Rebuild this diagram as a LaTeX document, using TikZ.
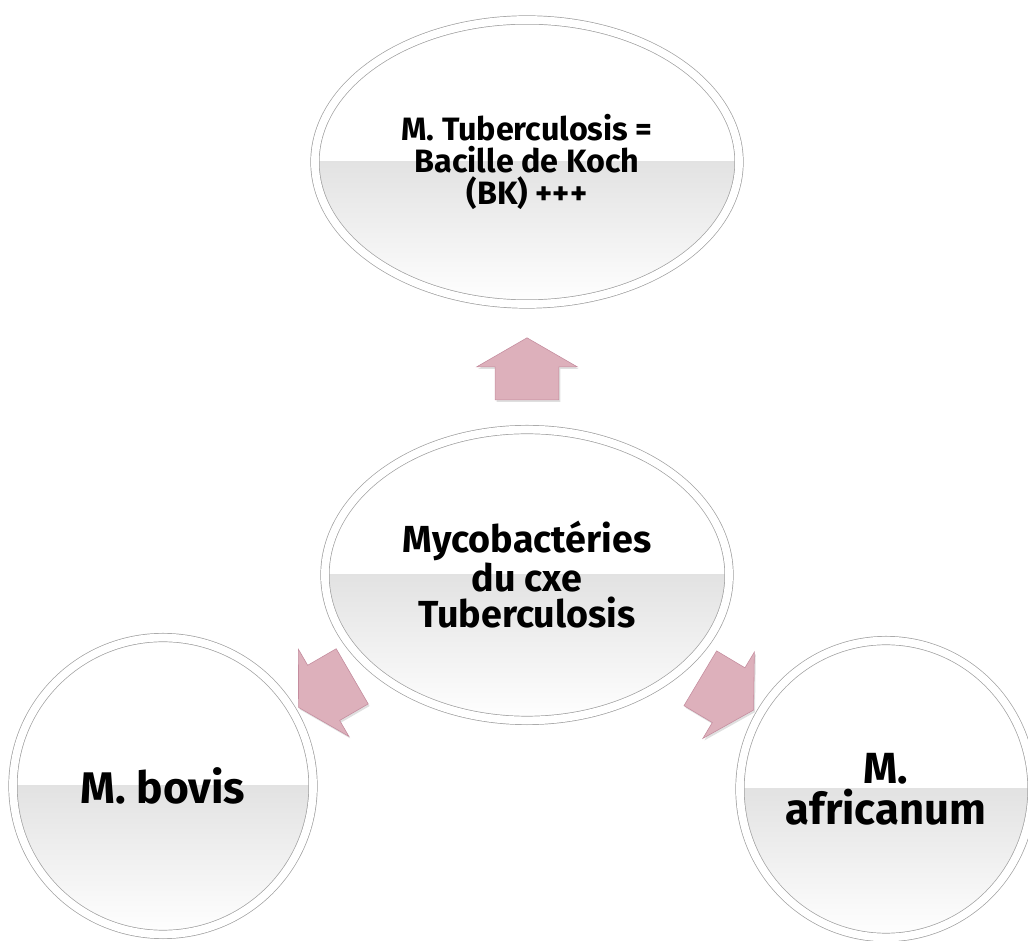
\documentclass[tikz,border=0pt]{standalone}
\usepackage{fontspec}
\setmainfont{Fira Sans}
\usetikzlibrary{shapes.geometric,shapes.arrows,shadows,positioning}

\definecolor{arrowfill}{RGB}{221,176,187}
\definecolor{arrowedge}{RGB}{196,140,158}
\definecolor{rimgray}{RGB}{160,160,160}

\tikzset{
  bubble/.style={ellipse, draw=rimgray, line width=0.5pt, double=white,
    double distance=5.5pt, fill=white, inner sep=0pt, align=center,
    drop shadow={opacity=0.2, shadow xshift=1.5pt, shadow yshift=-2.5pt},
    path picture={
      \fill[top color=gray!45, bottom color=white]
        (path picture bounding box.west) rectangle (path picture bounding box.south east);
    }},
  blockarrow/.style={single arrow, draw=arrowedge, fill=arrowfill,
    inner xsep=0pt, inner ysep=0.79cm, minimum height=1.55cm,
    single arrow head extend=0.46cm, single arrow tip angle=120,
    sloped, allow upside down,
    drop shadow={opacity=0.25, shadow xshift=1pt, shadow yshift=-1.5pt}}
}

\begin{document}
\begin{tikzpicture}[x=0.025cm, y=0.025cm]
\useasboundingbox (0,0) rectangle (1028,941);

\node[bubble, minimum width=10.1cm, minimum height=7.27cm,
  font=\bfseries\fontsize{26.8}{26}\selectfont] (myco) at (527,366)
  {Mycobactéries\\du cxe\\Tuberculosis};
\node[bubble, minimum width=10.6cm, minimum height=7.1cm,
  font=\bfseries\fontsize{23}{23}\selectfont] (mtb) at (527,779)
  {M. Tuberculosis =\\Bacille de Koch\\(BK) +++};
\node[bubble, minimum width=7.5cm, minimum height=7.42cm,
  font=\bfseries\fontsize{31.5}{31}\selectfont] (bovis) at (163,155) {M. bovis};
\node[bubble, minimum width=7.3cm, minimum height=7.42cm,
  font=\bfseries\fontsize{31}{29}\selectfont] (afri) at (886,152) {M.\\africanum};

\path (myco) -- node[blockarrow, pos=0.41] {} (mtb)
      (myco) -- node[blockarrow, pos=0.47] {} (bovis)
      (myco) -- node[blockarrow, pos=0.47] {} (afri);
\end{tikzpicture}
\end{document}
